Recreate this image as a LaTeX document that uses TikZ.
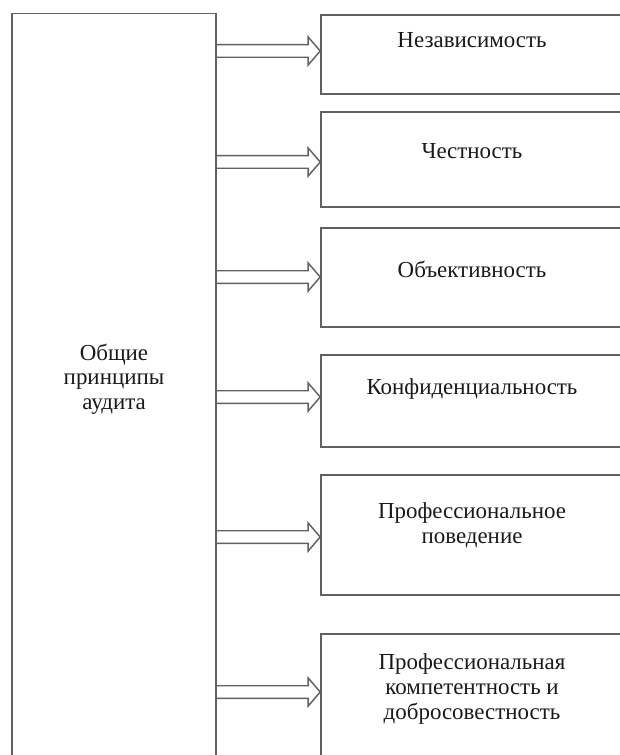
\documentclass[tikz,border=0pt]{standalone}
\usepackage{fontspec}
\setmainfont{Liberation Serif}
\usetikzlibrary{calc}

\tikzset{
  frame/.style={draw=black!62, line width=1.2pt, inner sep=0pt},
  lbl/.style={align=center, inner sep=0pt, text=black!90, font=\fontsize{17.2}{18.4}\selectfont},
  hollow/.style={draw=black!62, line width=1.1pt, line join=miter,
    to path={let \p1=(\tikztostart), \p2=(\tikztotarget) in
      (\x1,\y1+4.7pt) -- (\x2-9pt,\y1+4.7pt) -- (\x2-9pt,\y1+10.5pt) -- (\x2,\y1)
      -- (\x2-9pt,\y1-10.5pt) -- (\x2-9pt,\y1-4.7pt) -- (\x1,\y1-4.7pt)}}
}

\begin{document}
\begin{tikzpicture}[x=0.75pt,y=-0.75pt]
\useasboundingbox (0,0) rectangle (619,755);
% left frame, open at the bottom of the page
\node[frame, minimum width=153pt, minimum height=574pt] (main) at (114,396) {};
\node[lbl] (mtxt) at (114,379) {Общие\\принципы\\аудита};
% right boxes, open at the right of the page
\foreach \i/\ta/\tb in {1/15/94,2/112/207,3/228/327,4/355/447,5/475/595,6/634/770} {
  \node[frame, minimum width=228pt, minimum height={(\tb-\ta)*0.75pt}] (b\i) at (473,{(\ta+\tb)/2}) {};
}
\foreach \i/\yy/\txt in {1/40/Независимость,2/151/Честность,3/269/Объективность,
  4/389/Конфиденциальность,5/525/{Профессиональное\\поведение},
  6/689/{Профессиональная\\компетентность и\\добросовестность}} {
  \node[lbl] (t\i) at (472,\yy) {\txt};
}
% hollow arrows
\foreach \i/\ya in {1/51,2/162,3/277,4/397,5/537,6/692} {
  \coordinate (s\i) at (main.east |- 0,\ya);
  \coordinate (e\i) at (b\i.west |- 0,\ya);
  \draw[hollow] (s\i) to (e\i);
}
\end{tikzpicture}
\end{document}
